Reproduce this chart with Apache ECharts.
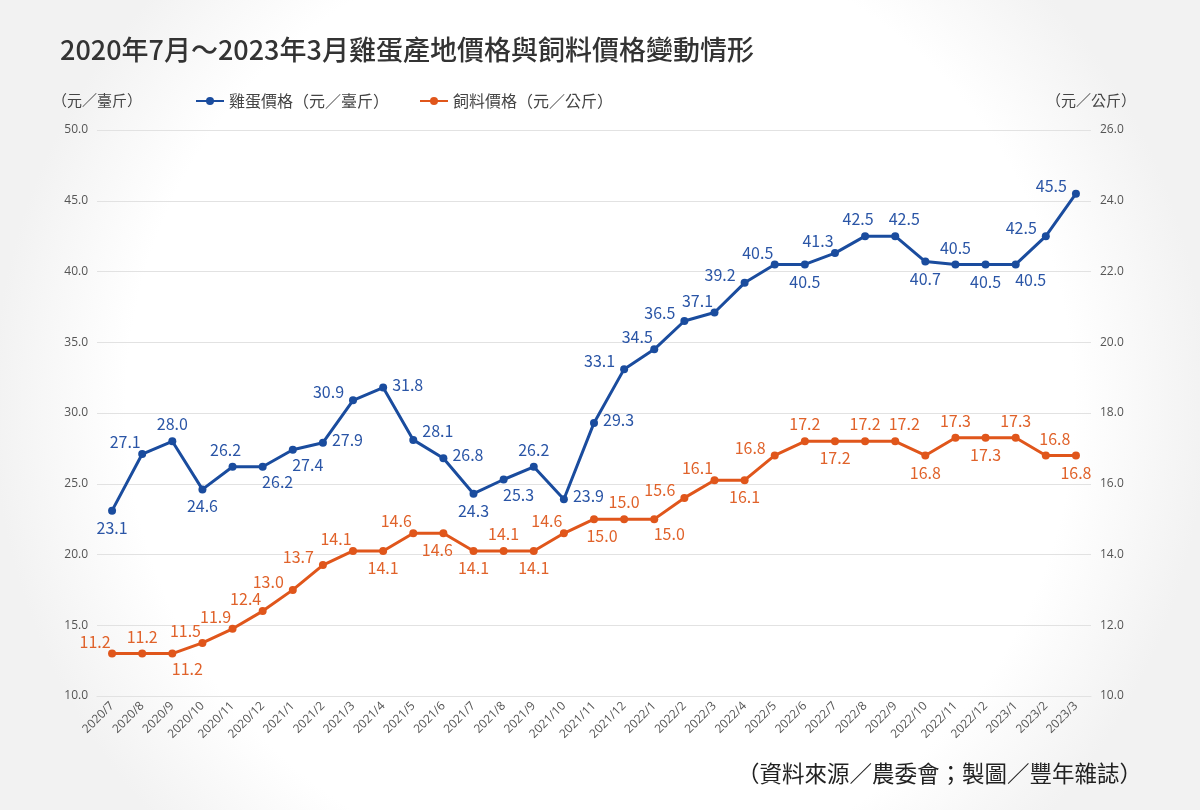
<!DOCTYPE html>
<html>
<head>
<meta charset="utf-8">
<script src="https://cdn.jsdelivr.net/npm/echarts@6/dist/echarts.min.js"></script>
<style>
html,body{margin:0;padding:0;background:#fff;}
#chart{width:1200px;height:810px;}
</style>
</head>
<body>
<div id="chart"></div>
<script>
const categories = ['2020/7','2020/8','2020/9','2020/10','2020/11','2020/12',
  '2021/1','2021/2','2021/3','2021/4','2021/5','2021/6','2021/7','2021/8','2021/9','2021/10','2021/11','2021/12',
  '2022/1','2022/2','2022/3','2022/4','2022/5','2022/6','2022/7','2022/8','2022/9','2022/10','2022/11','2022/12',
  '2023/1','2023/2','2023/3'];
const eggPrice = [23.1,27.1,28.0,24.6,26.2,26.2,27.4,27.9,30.9,31.8,28.1,26.8,24.3,25.3,26.2,23.9,29.3,33.1,
  34.5,36.5,37.1,39.2,40.5,40.5,41.3,42.5,42.5,40.7,40.5,40.5,40.5,42.5,45.5];
const feedPrice = [11.2,11.2,11.2,11.5,11.9,12.4,13.0,13.7,14.1,14.1,14.6,14.6,14.1,14.1,14.1,14.6,15.0,15.0,
  15.0,15.6,16.1,16.1,16.8,17.2,17.2,17.2,17.2,16.8,17.3,17.3,17.3,16.8,16.8];
const leftTicks = {min:10, max:50, interval:5};
const rightTicks = {min:10, max:26, interval:2};

// label placement codes (style only)
const eggLabelPlace = ['b','tl','t','b','tL','br','br','r','lu','r','ru','r','b','br','t','r','r','lu',
  'tl','lu','tl','lu','tl','b','tl','tL','tR','b','t','b','br','lu','lu'];
const feedLabelPlace = ['tl','t','br','tl','tl','tl','lu','lu','tl','b','tl','bL','b','t','b','tl','bR','t',
  'br','lu','tl','b','lu','t','b','t','tR','b','t','b','t','tR','b'];
const placeMap = {
  t:{position:'top',offset:[0,0]},
  tL:{position:'top',offset:[-7,0]},
  tR:{position:'top',offset:[9,0]},
  b:{position:'bottom',offset:[0,0]},
  bL:{position:'bottom',offset:[-6,0]},
  bR:{position:'bottom',offset:[8,0]},
  r:{position:'right',offset:[0,-3]},
  tl:{position:'top',offset:[-17,5]},
  lu:{position:'left',offset:[0,-8]},
  br:{position:'bottom',offset:[15,-2]},
  ru:{position:'right',offset:[0,-9]}
};
function build(vals, places){
  return vals.map((v,i)=>({value:v,label:Object.assign({},placeMap[places[i]])}));
}

const BLUE='#1a4c9e', ORANGE='#e0561b';
const chart = echarts.init(document.getElementById('chart'));
chart.setOption({
  backgroundColor:{type:'radial',x:0.5,y:0.5,r:0.75,colorStops:[
    {offset:0,color:'#ffffff'},{offset:0.78,color:'#ffffff'},{offset:1,color:'#f2f2f2'}]},
  animation:false,
  textStyle:{fontFamily:'"Noto Sans CJK TC","Noto Sans",sans-serif'},
  title:{
    text:'2020年7月～2023年3月雞蛋產地價格與飼料價格變動情形',
    left:55, top:31,
    textStyle:{fontSize:27,fontWeight:500,color:'#333'}
  },
  legend:{
    left:190, top:88, itemWidth:28, itemHeight:10, itemGap:30,
    textStyle:{fontSize:16,color:'#444'},
    data:['雞蛋價格（元／臺斤）','飼料價格（元／公斤）']
  },
  graphic:[{
    type:'text', right:58, top:762,
    style:{text:'（資料來源／農委會；製圖／豐年雜誌）',fontSize:22.5,fill:'#222',
      fontFamily:'"Noto Sans CJK TC",sans-serif'}
  }],
  grid:{left:97,right:109,top:130,bottom:114},
  xAxis:{
    type:'category', data:categories, boundaryGap:true,
    axisLine:{show:true,lineStyle:{color:'#e2e2e2'}},
    axisTick:{show:false},
    axisLabel:{rotate:45,fontSize:12,color:'#555',fontFamily:'"Open Sans",sans-serif',margin:8,interval:0}
  },
  yAxis:[{
    type:'value', min:leftTicks.min, max:leftTicks.max, interval:leftTicks.interval,
    name:'（元／臺斤）', nameLocation:'end', nameGap:22,
    nameTextStyle:{fontSize:15,color:'#444',align:'center'},
    axisLine:{show:false}, axisTick:{show:false},
    axisLabel:{formatter:v=>v.toFixed(1),fontSize:12,color:'#555',fontFamily:'"Open Sans",sans-serif',margin:9},
    splitLine:{lineStyle:{color:'#e2e2e2',width:1}}
  },{
    type:'value', min:rightTicks.min, max:rightTicks.max, interval:rightTicks.interval,
    name:'（元／公斤）', nameLocation:'end', nameGap:22,
    nameTextStyle:{fontSize:15,color:'#444',align:'center'},
    axisLine:{show:false}, axisTick:{show:false},
    axisLabel:{formatter:v=>v.toFixed(1),fontSize:12,color:'#555',fontFamily:'"Open Sans",sans-serif',margin:9},
    splitLine:{show:false}
  }],
  series:[{
    name:'雞蛋價格（元／臺斤）', type:'line', yAxisIndex:0,
    data:build(eggPrice,eggLabelPlace),
    symbol:'circle', symbolSize:8,
    lineStyle:{color:BLUE,width:3}, itemStyle:{color:BLUE},
    label:{show:true,fontSize:16,color:'#2a55a6',formatter:p=>p.value.toFixed(1)}
  },{
    name:'飼料價格（元／公斤）', type:'line', yAxisIndex:1,
    data:build(feedPrice,feedLabelPlace),
    symbol:'circle', symbolSize:8,
    lineStyle:{color:ORANGE,width:3}, itemStyle:{color:ORANGE},
    label:{show:true,fontSize:16,color:'#e0622a',formatter:p=>p.value.toFixed(1)}
  }]
});
</script>
</body>
</html>
